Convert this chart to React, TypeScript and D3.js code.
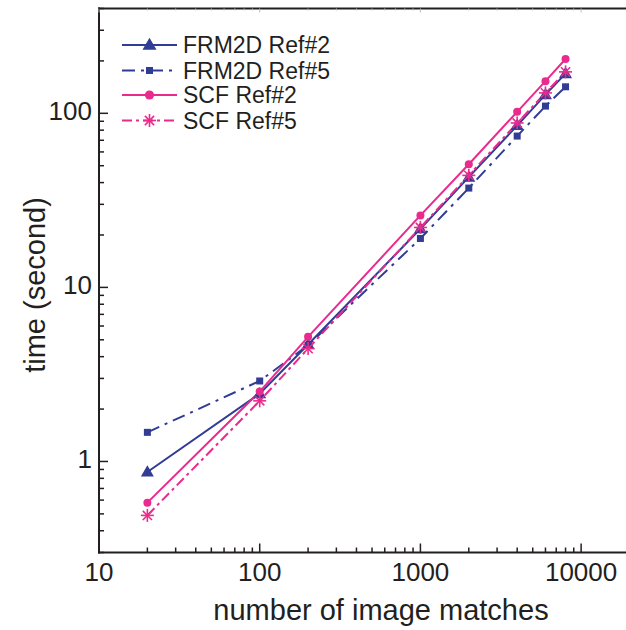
import { useEffect, useRef } from "react";
import * as d3 from "d3";

// data
const matches = [20, 100, 200, 1000, 2000, 4000, 6000, 8000];
const frm2dRef2 = [0.87, 2.45, 4.7, 21.7, 43, 85, 128, 169];
const frm2dRef5 = [1.47, 2.9, 4.65, 19.1, 37.2, 74, 110, 142];
const scfRef2 = [0.58, 2.52, 5.2, 25.9, 51, 102, 153, 205];
const scfRef5 = [0.49, 2.23, 4.45, 22.1, 44, 88, 131, 173];

const xTicks = [10, 100, 1000, 10000];
const yTicks = [1, 10, 100];

const NAVY = "#313c94";
const PINK = "#eb2a8d";
const AXIS = "#231f20";
const FONT = "'Liberation Sans', Arial, sans-serif";

type Marker = "triangle" | "square" | "circle" | "star";

const seriesList = [
  { name: "FRM2D Ref#2", values: frm2dRef2, color: NAVY, dash: null, marker: "triangle" as Marker },
  { name: "FRM2D Ref#5", values: frm2dRef5, color: NAVY, dash: "13,6,3,6", marker: "square" as Marker },
  { name: "SCF Ref#2", values: scfRef2, color: PINK, dash: null, marker: "circle" as Marker },
  { name: "SCF Ref#5", values: scfRef5, color: PINK, dash: "10,4,3,4", marker: "star" as Marker },
];

const W = 626;
const H = 630;

export default function App() {
  const ref = useRef<SVGSVGElement>(null);

  useEffect(() => {
    const svg = d3.select(ref.current);
    svg.selectAll("*").remove();

    const x = d3.scaleLog().domain([10, 20000]).range([99, 629.5]);
    const y = d3.scaleLog().domain([0.3, 400]).range([552.5, 8.5]);

    const drawMarker = (g: any, kind: Marker, cx: number, cy: number, color: string, big: boolean) => {
      if (kind === "triangle") {
        const s = big ? 14 : 13;
        const h = s * 0.87;
        g.append("path")
          .attr("d", `M${cx},${cy - h * 0.6}L${cx + s / 2},${cy + h * 0.4}L${cx - s / 2},${cy + h * 0.4}Z`)
          .attr("fill", color);
      } else if (kind === "square") {
        const s = 7;
        g.append("rect").attr("x", cx - s / 2).attr("y", cy - s / 2).attr("width", s).attr("height", s).attr("fill", color);
      } else if (kind === "circle") {
        g.append("circle").attr("cx", cx).attr("cy", cy).attr("r", big ? 4.6 : 4).attr("fill", color);
      } else {
        const r = 6.5;
        for (let a = 0; a < 4; a++) {
          const ang = (a * Math.PI) / 4;
          g.append("line")
            .attr("x1", cx - r * Math.cos(ang)).attr("y1", cy - r * Math.sin(ang))
            .attr("x2", cx + r * Math.cos(ang)).attr("y2", cy + r * Math.sin(ang))
            .attr("stroke", color).attr("stroke-width", 1.6);
        }
      }
    };

    // series lines
    const line = d3.line<number>()
      .x((_, i) => x(matches[i]))
      .y((d) => y(d));

    seriesList.forEach((s) => {
      svg.append("path")
        .datum(s.values)
        .attr("d", line)
        .attr("fill", "none")
        .attr("stroke", s.color)
        .attr("stroke-width", 2)
        .attr("stroke-dasharray", s.dash);
    });
    seriesList.forEach((s) => {
      const g = svg.append("g");
      s.values.forEach((v, i) => drawMarker(g, s.marker, x(matches[i]), y(v), s.color, false));
    });

    // axes frame
    const frame = svg.append("g").attr("stroke", AXIS).attr("stroke-width", 2);
    frame.append("line").attr("x1", 99).attr("x2", 99).attr("y1", 7.5).attr("y2", 553.5);
    frame.append("line").attr("x1", 98).attr("x2", W).attr("y1", 552.5).attr("y2", 552.5);
    frame.append("line").attr("x1", 98).attr("x2", W).attr("y1", 8.5).attr("y2", 8.5);

    // x ticks (inward)
    const xAll = x.ticks();
    xAll.forEach((t) => {
      if (x(t) > W) return;
      const major = xTicks.includes(t);
      frame.append("line")
        .attr("x1", x(t)).attr("x2", x(t))
        .attr("y1", 552.5).attr("y2", 552.5 - (major ? 9 : 5))
        .attr("stroke-width", 1.5);
      frame.append("line")
        .attr("x1", x(t)).attr("x2", x(t))
        .attr("y1", 8.5).attr("y2", 8.5 + (major ? 4 : 2))
        .attr("stroke", "#bbb")
        .attr("stroke-width", 1);
    });

    // y ticks (inward)
    y.ticks().forEach((t) => {
      const major = yTicks.includes(t);
      frame.append("line")
        .attr("x1", 99).attr("x2", 99 + (major ? 9 : 5))
        .attr("y1", y(t)).attr("y2", y(t))
        .attr("stroke-width", 1.5);
    });

    // tick labels
    svg.append("g").selectAll("text").data(xTicks).join("text")
      .attr("x", (d) => x(d))
      .attr("y", 581)
      .attr("text-anchor", "middle")
      .attr("font-family", FONT)
      .attr("font-size", 26)
      .attr("fill", AXIS)
      .text((d) => String(d));

    svg.append("g").selectAll("text").data(yTicks).join("text")
      .attr("x", 92)
      .attr("y", (d) => y(d) + 7)
      .attr("text-anchor", "end")
      .attr("font-family", FONT)
      .attr("font-size", 26)
      .attr("fill", AXIS)
      .text((d) => String(d));

    // axis titles
    svg.append("text")
      .attr("x", 381).attr("y", 620)
      .attr("text-anchor", "middle")
      .attr("font-family", FONT).attr("font-size", 29).attr("fill", AXIS)
      .text("number of image matches");

    svg.append("text")
      .attr("transform", "translate(45,285) rotate(-90)")
      .attr("text-anchor", "middle")
      .attr("font-family", FONT).attr("font-size", 29).attr("fill", AXIS)
      .text("time (second)");

    // legend
    const rows = [45, 70.5, 95, 120.5];
    seriesList.forEach((s, i) => {
      const g = svg.append("g");
      g.append("line")
        .attr("x1", 122).attr("x2", 177)
        .attr("y1", rows[i]).attr("y2", rows[i])
        .attr("stroke", s.color).attr("stroke-width", 2)
        .attr("stroke-dasharray", s.dash);
      drawMarker(g, s.marker, 149.5, rows[i], s.color, true);
      g.append("text")
        .attr("x", 183).attr("y", rows[i] + 8.3)
        .attr("font-family", FONT).attr("font-size", 23).attr("fill", AXIS)
        .text(s.name);
    });
  }, []);

  return (
    <svg
      ref={ref}
      width={W}
      height={H}
      style={{ position: "absolute", left: 0, top: 0, background: "#fff" }}
    />
  );
}
